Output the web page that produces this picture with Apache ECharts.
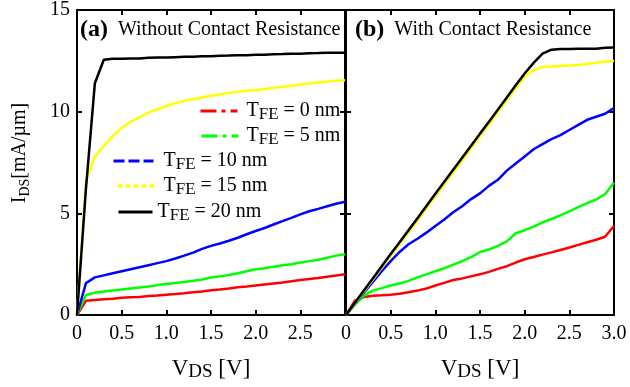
<!DOCTYPE html>
<html><head><meta charset="utf-8">
<script src="https://cdn.jsdelivr.net/npm/echarts@6/dist/echarts.min.js"></script>
<style>html,body{margin:0;padding:0;background:#fff}#c{width:630px;height:387px}</style>
</head><body><div id="c"></div>
<script>
const vds = [0,0.1,0.2,0.3,0.4,0.5,0.6,0.7,0.8,0.9,1.0,1.1,1.2,1.3,1.4,1.5,1.6,1.7,1.8,1.9,2.0,2.1,2.2,2.3,2.4,2.5,2.6,2.7,2.8,2.9,3.0];
const xTicks = [0,0.5,1.0,1.5,2.0,2.5,3.0];
const yTicks = [0,5,10,15];
const seriesNames = ['0 nm','5 nm','10 nm','15 nm','20 nm'];
const seriesColors = ['#ff0000','#00ff00','#0000ff','#ffff00','#000000'];

// (a) Without contact resistance
const a0  = [0,0.70,0.74,0.77,0.80,0.85,0.87,0.89,0.93,0.96,1.00,1.03,1.07,1.12,1.16,1.22,1.25,1.30,1.36,1.40,1.45,1.50,1.55,1.60,1.66,1.72,1.77,1.82,1.88,1.94,2.00];
const a5  = [0,0.98,1.10,1.15,1.20,1.25,1.30,1.35,1.40,1.47,1.52,1.57,1.62,1.68,1.75,1.85,1.90,1.97,2.05,2.15,2.25,2.30,2.37,2.45,2.50,2.58,2.65,2.72,2.82,2.92,2.99];
const a10 = [0,1.57,1.85,1.95,2.05,2.15,2.25,2.35,2.45,2.55,2.65,2.78,2.92,3.07,3.25,3.40,3.52,3.65,3.80,3.97,4.13,4.28,4.45,4.62,4.78,4.95,5.10,5.22,5.35,5.47,5.57];
const a15 = [0,6.6,7.8,8.3,8.8,9.2,9.5,9.72,9.95,10.12,10.28,10.42,10.53,10.62,10.70,10.78,10.85,10.92,10.98,11.03,11.07,11.12,11.17,11.22,11.28,11.33,11.38,11.43,11.48,11.52,11.55];
const a20 = [0,6.2,11.4,12.55,12.6,12.6,12.62,12.62,12.65,12.66,12.66,12.68,12.7,12.7,12.72,12.73,12.75,12.76,12.78,12.78,12.8,12.8,12.82,12.83,12.85,12.85,12.87,12.88,12.9,12.9,12.9];

// (b) With contact resistance
const b0  = [0,0.70,0.88,0.95,0.97,1.00,1.05,1.12,1.20,1.30,1.45,1.58,1.72,1.80,1.90,2.00,2.12,2.27,2.40,2.58,2.74,2.85,2.97,3.08,3.20,3.32,3.45,3.58,3.70,3.85,4.38];
const b5  = [0,0.50,0.95,1.20,1.32,1.45,1.55,1.68,1.85,2.00,2.15,2.30,2.48,2.65,2.85,3.10,3.22,3.40,3.62,4.02,4.17,4.35,4.55,4.72,4.90,5.10,5.30,5.50,5.68,5.95,6.50];
const b10 = [0,0.55,1.10,1.62,2.15,2.65,3.10,3.48,3.75,4.05,4.38,4.70,5.05,5.35,5.70,5.98,6.35,6.65,7.10,7.45,7.80,8.15,8.40,8.65,8.85,9.10,9.35,9.60,9.75,9.90,10.18];
const b15 = [0,0.57,1.15,1.73,2.32,2.90,3.49,4.07,4.66,5.25,5.84,6.43,7.02,7.61,8.20,8.80,9.38,9.97,10.56,11.15,11.72,12.05,12.20,12.22,12.25,12.27,12.30,12.35,12.40,12.45,12.50];
const b20 = [0,0.60,1.20,1.80,2.40,3.00,3.58,4.17,4.76,5.36,5.96,6.55,7.14,7.73,8.32,8.92,9.50,10.10,10.70,11.30,11.88,12.40,12.85,13.05,13.08,13.08,13.10,13.10,13.10,13.14,13.15];

const panelA = [a0,a5,a10,a15,a20];
const panelB = [b0,b5,b10,b15,b20];

const FONT = '"Liberation Serif", "Times New Roman", serif';
const pairs = ys => vds.map((x,i)=>[x, ys[i]]);
const fmtX = v => v===0 ? '0' : v.toFixed(1);

function xAx(grid, pos, labels, showMax){
  return {type:'value', gridIndex:grid, position:pos, min:0, max:3, interval:0.5,
    axisLine:{show:true, onZero:false, lineStyle:{color:'#000', width:2}},
    axisTick:{show:true, inside:true, length:5, lineStyle:{color:'#000', width:2}},
    axisLabel:{show:labels, showMaxLabel:showMax, formatter:fmtX, color:'#000', fontFamily:FONT, fontSize:20, margin:9},
    splitLine:{show:false}};
}
function yAx(grid, pos, labels){
  return {type:'value', gridIndex:grid, position:pos, min:0, max:15, interval:5,
    axisLine:{show:true, onZero:false, lineStyle:{color:'#000', width:2}},
    axisTick:{show:true, inside:true, length:5, lineStyle:{color:'#000', width:2}},
    axisLabel:{show:labels, color:'#000', fontFamily:FONT, fontSize:20, margin:7},
    splitLine:{show:false}};
}
const xName = {
  name:'{v|V}{s|DS}{v| [V]}', nameLocation:'middle', nameGap:41,
  nameTextStyle:{rich:{v:{fontFamily:FONT,fontSize:23,color:'#000',lineHeight:26},
                       s:{fontFamily:FONT,fontSize:19,color:'#000',lineHeight:16,verticalAlign:'bottom'}}}
};

const series = [];
seriesNames.forEach((n,i)=>{
  series.push({name:n, type:'line', xAxisIndex:0, yAxisIndex:0, data:pairs(panelA[i]), symbol:'none',
    lineStyle:{color:seriesColors[i], width:2.5}, itemStyle:{color:seriesColors[i]}, z:2+i});
  series.push({name:n, type:'line', xAxisIndex:2, yAxisIndex:2, data:pairs(panelB[i]), symbol:'none',
    lineStyle:{color:seriesColors[i], width:2.5}, itemStyle:{color:seriesColors[i]}, z:2+i});
});

const legRich = {t:{fontFamily:FONT,fontSize:20,color:'#000',lineHeight:24},
                 s:{fontFamily:FONT,fontSize:17,color:'#000',lineHeight:16,verticalAlign:'bottom'}};
const legendPos = [
  {left:199, top:101, w:37, dash:[16,5,4,5], pad:4},
  {left:200, top:126, w:37, dash:[16,5,4,5], pad:3},
  {left:112, top:151, w:40, dash:[11,4], pad:5},
  {left:116, top:176, w:37, dash:[5,3], pad:4},
  {left:117, top:202, w:34, dash:'solid', pad:0}
];
const legends = legendPos.map((p,i)=>({
  data:[seriesNames[i]], left:p.left, top:p.top, padding:0, itemWidth:p.w, itemHeight:14,
  selectedMode:false, lineStyle:{type:p.dash, width:3},
  itemStyle:{opacity:0, color:'rgba(0,0,0,0)', borderWidth:0},
  formatter: n => '{t|T}{s|FE}{t| = '+n+'}',
  textStyle:{rich:legRich, padding:[0,0,0,p.pad]}
}));

const titleRich = {b:{fontFamily:FONT,fontSize:24,fontWeight:'bold',color:'#000',lineHeight:26},
                   n:{fontFamily:FONT,fontSize:20,fontWeight:'normal',color:'#000',lineHeight:26}};
const chart = echarts.init(document.getElementById('c'), null, {renderer:'canvas'});
chart.setOption({
  animation:false,
  backgroundColor:'#fff',
  grid:[{left:77, right:285, top:10, bottom:71}, {left:346, right:16, top:10, bottom:71}],
  xAxis:[Object.assign(xAx(0,'bottom',true,false), xName), xAx(0,'top',false,false),
         Object.assign(xAx(1,'bottom',true,true), xName), xAx(1,'top',false,false)],
  yAxis:[yAx(0,'left',true), yAx(0,'right',false), yAx(1,'left',false), yAx(1,'right',false)],
  legend:legends,
  title:[
    {text:'{b|(a)}{n|  Without Contact Resistance}', left:80, top:17, padding:0,
     textStyle:{fontWeight:'normal', rich:titleRich}},
    {text:'{b|(b)}{n|  With Contact Resistance}', left:355, top:17, padding:0,
     textStyle:{fontWeight:'normal', rich:titleRich}}
  ],
  graphic:[{type:'text', x:20, y:153, rotation:Math.PI/2,
    style:{text:'{v|I}{s|DS}{v|[mA/µm]}', align:'center', verticalAlign:'middle',
      rich:{v:{fontFamily:FONT,fontSize:20,fill:'#000',lineHeight:24},
            s:{fontFamily:FONT,fontSize:14,fill:'#000',lineHeight:12,verticalAlign:'bottom'}}}}],
  series:series
});
</script></body></html>
